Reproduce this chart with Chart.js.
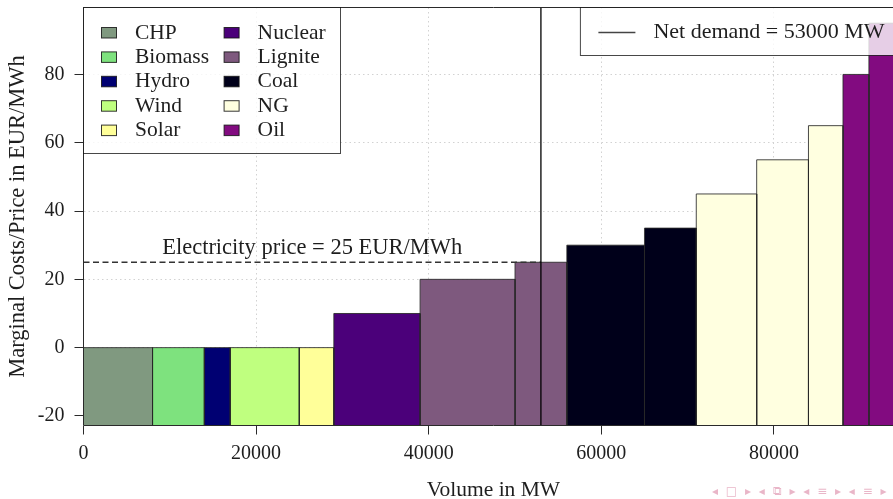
<!DOCTYPE html>
<html>
<head>
<meta charset="utf-8">
<title>Merit order</title>
<script src="https://cdn.jsdelivr.net/npm/chart.js@4"></script>
<style>
  html, body { margin: 0; padding: 0; background: #fff; overflow: hidden; width: 893px; height: 499px; }
  #wrap { position: relative; width: 915px; height: 499px; }
  canvas { display: block; }
  #nav { position: absolute; left: 712px; top: 484px; font: 12px "DejaVu Sans", sans-serif; color: #e9b6c8; white-space: nowrap; letter-spacing: 2px; }
</style>
</head>
<body>
<div id="wrap"><canvas id="chart" width="915" height="499"></canvas></div>
<div id="nav">◂ □ ▸ ◂ ⧉ ▸ ◂ ≡ ▸ ◂ ≡ ▸</div>
<script>
// Technologies shown in the legend and their fill colours
const TECHNOLOGIES = ['CHP', 'Biomass', 'Hydro', 'Wind', 'Solar', 'Nuclear', 'Lignite', 'Coal', 'NG', 'Oil'];
const TECH_COLORS  = ['#809980', '#7ee27e', '#000072', '#bfff7f', '#ffff99', '#4b007a', '#7e597e', '#00001a', '#ffffe0', '#820b80'];

// Supply blocks in merit order: technology, capacity (MW), marginal cost (EUR/MWh)
const BLOCK_TECH     = ['CHP', 'Biomass', 'Hydro', 'Wind', 'Solar', 'Nuclear', 'Lignite', 'Lignite', 'Coal', 'Coal', 'NG', 'NG', 'NG', 'Oil', 'Oil'];
const BLOCK_CAPACITY = [8000, 6000, 3000, 8000, 4000, 10000, 11000, 6000, 9000, 6000, 7000, 6000, 4000, 3000, 4000];
const BLOCK_COST     = [0, 0, 0, 0, 0, 10, 20, 25, 30, 35, 45, 55, 65, 80, 95];

const NET_DEMAND = 53000;   // MW
const PRICE = 25;           // EUR/MWh

const X_TICKS = [0, 20000, 40000, 60000, 80000];
const Y_TICKS = [-20, 0, 20, 40, 60, 80];
const X_RANGE = [0, 95000];
const Y_RANGE = [-22.8, 99.6];

const SERIF = "'Liberation Serif', 'DejaVu Serif', serif";
const INK = '#1e1e1e';
const EDGE = 'rgba(40,40,40,0.85)';

// Each block becomes a filled step outline from the axis floor up to its cost
let cumulative = 0;
const blockSets = BLOCK_CAPACITY.map((cap, i) => {
  const x0 = cumulative, x1 = cumulative + cap;
  cumulative = x1;
  return {
    label: BLOCK_TECH[i],
    data: [
      { x: x0, y: Y_RANGE[0] }, { x: x0, y: BLOCK_COST[i] },
      { x: x1, y: BLOCK_COST[i] }, { x: x1, y: Y_RANGE[0] }
    ],
    backgroundColor: TECH_COLORS[TECHNOLOGIES.indexOf(BLOCK_TECH[i])],
    borderColor: EDGE,
    borderWidth: 1,
    fill: 'start',
    pointRadius: 0,
    tension: 0,
    order: 3
  };
});

const priceLine = {
  label: 'Electricity price',
  data: [{ x: X_RANGE[0], y: PRICE }, { x: NET_DEMAND, y: PRICE }],
  borderColor: '#333',
  borderWidth: 1.5,
  borderDash: [6, 3.5],
  fill: false,
  pointRadius: 0,
  order: 1
};

const demandLine = {
  label: 'Net demand',
  data: [{ x: NET_DEMAND, y: Y_RANGE[0] }, { x: NET_DEMAND, y: Y_RANGE[1] }],
  borderColor: '#000',
  borderWidth: 1.3,
  fill: false,
  pointRadius: 0,
  order: 0
};

// Axis frame, price annotation and the two legend boxes
const decorations = {
  id: 'decorations',
  afterDatasetsDraw(chart) {
    const ctx = chart.ctx;
    const a = chart.chartArea;
    const xs = chart.scales.x, ys = chart.scales.y;
    ctx.save();

    // spines
    ctx.strokeStyle = '#2a2a2a';
    ctx.lineWidth = 1;
    ctx.beginPath();
    ctx.moveTo(a.left, a.bottom); ctx.lineTo(a.left, a.top); ctx.lineTo(a.right, a.top);
    ctx.moveTo(a.left, a.bottom); ctx.lineTo(a.right, a.bottom);
    ctx.stroke();

    // price annotation
    ctx.fillStyle = INK;
    ctx.font = '22.5px ' + SERIF;
    ctx.textAlign = 'center';
    ctx.textBaseline = 'middle';
    ctx.fillText('Electricity price = ' + PRICE + ' EUR/MWh', xs.getPixelForValue(NET_DEMAND / 2), ys.getPixelForValue(PRICE + 4.2));

    // technology legend (upper left)
    ctx.font = '21.5px ' + SERIF;
    ctx.textAlign = 'left';
    ctx.fillStyle = 'rgba(255,255,255,0.8)';
    ctx.fillRect(a.left, a.top, 257, 146);
    ctx.strokeStyle = 'rgba(0,0,0,0.72)';
    ctx.strokeRect(a.left, a.top, 257, 146);
    TECHNOLOGIES.forEach((t, i) => {
      const col = Math.floor(i / 5), row = i % 5;
      const sx = a.left + 18 + col * 122.6;
      const sy = a.top + 20 + row * 24.4;
      ctx.fillStyle = TECH_COLORS[i];
      ctx.fillRect(sx, sy, 15, 10.5);
      ctx.strokeStyle = 'rgba(20,20,20,0.85)';
      ctx.strokeRect(sx, sy, 15, 10.5);
      ctx.fillStyle = INK;
      ctx.fillText(t, sx + 33.5, sy + 5.5);
    });

    // net demand legend (upper right)
    const bx = a.right - 323, by = a.top, bw = 330, bh = 48;
    ctx.fillStyle = 'rgba(255,255,255,0.8)';
    ctx.fillRect(bx, by, bw, bh);
    ctx.strokeStyle = 'rgba(0,0,0,0.72)';
    ctx.strokeRect(bx, by, bw, bh);
    ctx.strokeStyle = '#444';
    ctx.lineWidth = 1.5;
    ctx.beginPath();
    ctx.moveTo(bx + 18, by + 25); ctx.lineTo(bx + 55, by + 25);
    ctx.stroke();
    ctx.fillStyle = INK;
    ctx.font = '22px ' + SERIF;
    ctx.fillText('Net demand = ' + NET_DEMAND + ' MW', bx + 73, by + 25);

    ctx.restore();
  }
};

new Chart(document.getElementById('chart'), {
  type: 'line',
  data: { datasets: [demandLine, priceLine, ...blockSets] },
  options: {
    responsive: false,
    devicePixelRatio: 1,
    animation: false,
    events: [],
    layout: { padding: { left: 0, top: 7.5, right: 11.6, bottom: 0 } },
    plugins: { legend: { display: false }, tooltip: { enabled: false } },
    scales: {
      x: {
        type: 'linear',
        min: X_RANGE[0],
        max: X_RANGE[1],
        afterBuildTicks: s => { s.ticks = X_TICKS.map(v => ({ value: v })); },
        afterFit: s => { s.height = 73.5; s.paddingLeft = 0; s.paddingRight = 0; },
        ticks: { callback: v => String(v), font: { family: SERIF, size: 20 }, color: INK, padding: 7, maxRotation: 0, autoSkip: false },
        grid: { color: '#d2d2d2', lineWidth: 1, tickColor: '#2a2a2a', tickLength: 9, tickWidth: 1, tickBorderDash: [] },
        border: { display: false, dash: [1.5, 3] },
        title: { display: true, text: 'Volume in MW', color: INK, font: { family: SERIF, size: 21.5, lineHeight: 0.85 }, padding: 0 }
      },
      y: {
        type: 'linear',
        min: Y_RANGE[0],
        max: Y_RANGE[1],
        afterBuildTicks: s => { s.ticks = Y_TICKS.map(v => ({ value: v })); },
        afterFit: s => { s.width = 83.5; s.paddingTop = 0; s.paddingBottom = 0; },
        ticks: { callback: v => String(v), font: { family: SERIF, size: 20 }, color: INK, padding: 10 },
        grid: { color: '#d2d2d2', lineWidth: 1, tickColor: '#2a2a2a', tickLength: 9, tickWidth: 1, tickBorderDash: [] },
        border: { display: false, dash: [1.5, 3] },
        title: { display: true, text: 'Marginal Costs/Price in EUR/MWh', color: INK, font: { family: SERIF, size: 22.5, lineHeight: 1.2 }, padding: { top: 5, bottom: 0 } }
      }
    }
  },
  plugins: [decorations]
});
</script>
</body>
</html>
